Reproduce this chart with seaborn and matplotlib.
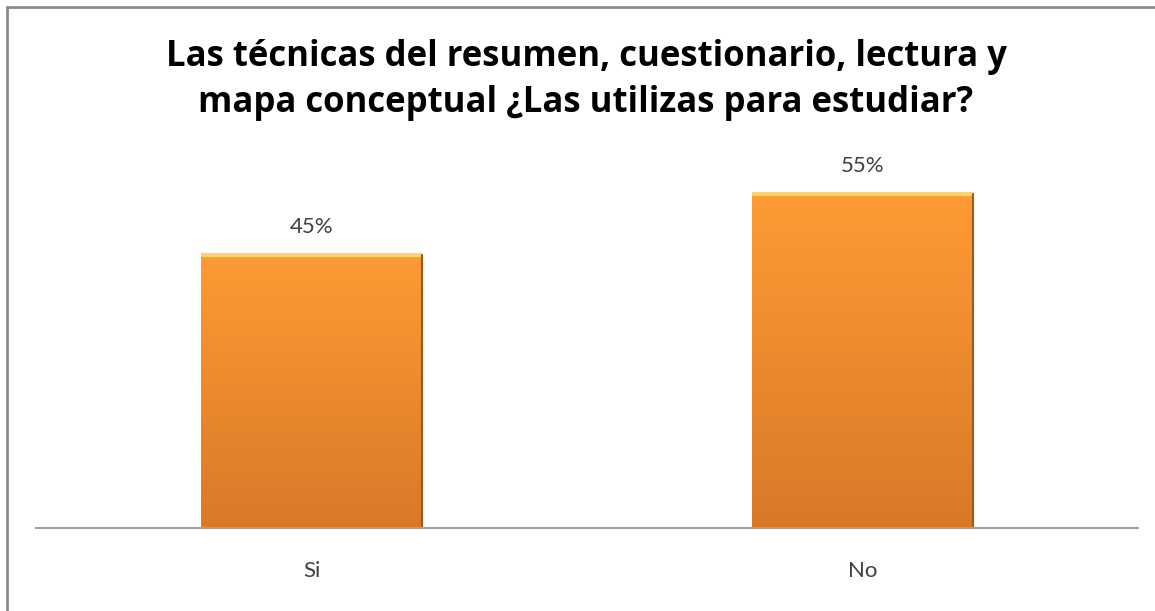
import numpy as np
import pandas as pd
import matplotlib
matplotlib.use("Agg")
import matplotlib.pyplot as plt
import seaborn as sns
from matplotlib.colors import LinearSegmentedColormap
from matplotlib.lines import Line2D

# ── Data ──────────────────────────────────────────────────────
categorias = ["Si", "No"]
porcentajes = [45, 55]
titulo = "Las técnicas del resumen, cuestionario, lectura y\nmapa conceptual ¿Las utilizas para estudiar?"

df = pd.DataFrame({"respuesta": categorias, "pct": porcentajes})

sns.set_theme(style="white")
plt.rcParams["font.family"] = ["Lato", "DejaVu Sans"]

W, H = 1155, 611
fig = plt.figure(figsize=(W / 100, H / 100), dpi=100)
ax = fig.add_axes([36 / W, 1 - 528 / H, (1138 - 36) / W, (528 - 164) / H])

sns.barplot(data=df, x="respuesta", y="pct", color="#F5902F", width=0.4,
            ax=ax, saturation=1, linewidth=0)

# orange vertical gradient inside each bar
grad = LinearSegmentedColormap.from_list("naranja", ["#DA7828", "#FE9B35"])
for bar in ax.patches:
    x0, y0 = bar.get_x(), bar.get_y()
    w, h = bar.get_width(), bar.get_height()
    img = ax.imshow(np.linspace(0, 1, 256).reshape(-1, 1), cmap=grad,
                    origin="lower", aspect="auto",
                    extent=[x0, x0 + w, y0, y0 + h], zorder=bar.get_zorder() + 0.1)
    img.set_clip_path(bar)
    # bevel: light top edge, dark right edge
    ax.plot([x0, x0 + w], [y0 + h, y0 + h], color="#FFD36A", lw=3,
            zorder=bar.get_zorder() + 0.2, solid_capstyle="butt")
    ax.plot([x0 + w, x0 + w], [y0, y0 + h], color="#9A5A1E", lw=1.5,
            zorder=bar.get_zorder() + 0.2)
    ax.text(x0 + w / 2, h + 4.6, f"{h:.0f}%", ha="center", va="center",
            fontsize=16, color="#404040")

ax.set_xlim(-0.5, 1.5)
ax.set_ylim(0, 60)
ax.set_xlabel("")
ax.set_ylabel("")
ax.set_yticks([])
ax.tick_params(axis="x", length=0, pad=24, labelsize=16, labelcolor="#404040")
sns.despine(ax=ax, left=True, top=True, right=True)
ax.spines["bottom"].set_color("#A0A0A0")
ax.spines["bottom"].set_linewidth(1.5)

fig.text(586 / W, 1 - 80 / H, titulo, ha="center", va="center",
         fontsize=25, fontweight="bold", color="black", linespacing=1.35,
         family=["Open Sans", "DejaVu Sans"])

# chart frame (only left and top edges are visible in the crop)
fig.add_artist(Line2D([7 / W, 7 / W], [0, 1 - 7 / H], color="#8C8C8C", lw=2))
fig.add_artist(Line2D([7 / W, 1], [1 - 7 / H, 1 - 7 / H], color="#8C8C8C", lw=2))

plt.savefig("out.png", dpi=100)
